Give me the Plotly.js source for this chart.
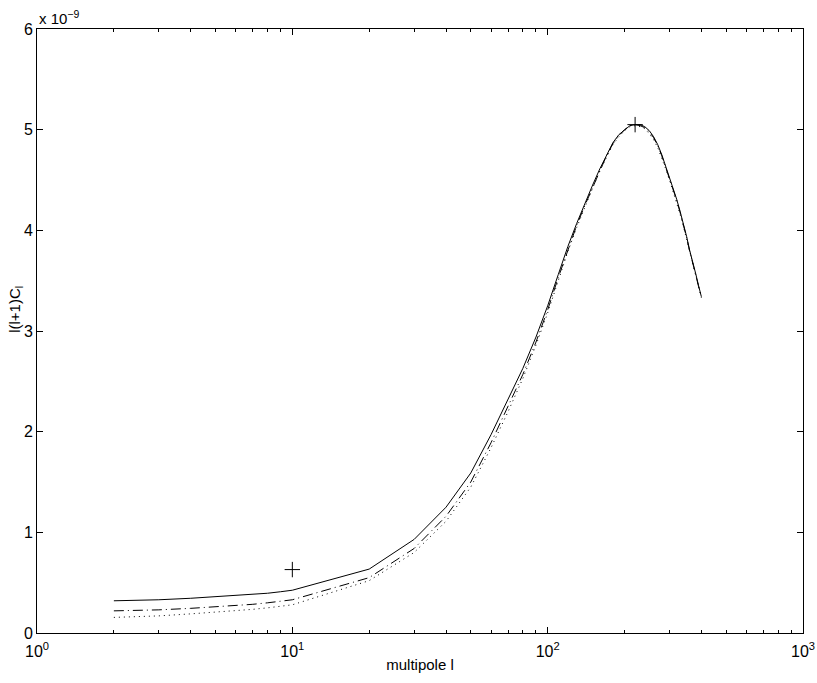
<!DOCTYPE html>
<html>
<head>
<meta charset="utf-8">
<script src="https://cdn.plot.ly/plotly-3.0.1.min.js"></script>
<style>
  html, body { margin: 0; padding: 0; background: #fff; }
  #chart { width: 817px; height: 683px; }
</style>
</head>
<body>
<div id="chart"></div>
<script>
// multipole values (l) and l(l+1)C_l in units of 1e-9
const ell = [2, 3, 4, 5, 6, 7, 8, 9, 10, 20, 30, 40, 50, 60, 70, 80, 90,
             100, 110, 120, 130, 140, 150, 160, 170, 180, 190, 200, 210, 220, 230, 240, 250,
             260, 270, 280, 290, 300, 310, 320, 330, 340, 350, 360, 370, 380, 390, 400];

const clSolid = [0.32, 0.33, 0.345, 0.36, 0.37, 0.385, 0.395, 0.41, 0.425, 0.635, 0.93, 1.25, 1.59,
                 1.97, 2.32, 2.63, 2.94,
                 3.25, 3.56, 3.84, 4.07, 4.27, 4.45, 4.61, 4.75, 4.87, 4.95, 5.00, 5.04, 5.05, 5.05,
                 5.03, 4.99, 4.93, 4.85, 4.75, 4.64, 4.53, 4.42, 4.31, 4.19, 4.07, 3.94, 3.80, 3.69,
                 3.57, 3.45, 3.34];

const clDashDot = [0.22, 0.23, 0.245, 0.26, 0.27, 0.285, 0.30, 0.315, 0.33, 0.55, 0.84, 1.16, 1.50,
                   1.89, 2.25, 2.57, 2.89,
                   3.21, 3.53, 3.81, 4.05, 4.25, 4.43, 4.60, 4.74, 4.86, 4.94, 5.00, 5.04, 5.05, 5.04,
                   5.02, 4.98, 4.92, 4.84, 4.74, 4.63, 4.52, 4.41, 4.30, 4.18, 4.06, 3.93, 3.79, 3.68,
                   3.56, 3.44, 3.34];

const clDotted = [0.155, 0.17, 0.19, 0.205, 0.22, 0.235, 0.25, 0.265, 0.28, 0.52, 0.80, 1.11, 1.45,
                  1.84, 2.20, 2.53, 2.86,
                  3.18, 3.50, 3.79, 4.03, 4.24, 4.42, 4.59, 4.73, 4.85, 4.93, 4.99, 5.03, 5.04, 5.03,
                  5.01, 4.96, 4.90, 4.82, 4.72, 4.61, 4.50, 4.39, 4.28, 4.16, 4.04, 3.91, 3.78, 3.67,
                  3.55, 3.43, 3.33];

// the two '+' points
const markL = [10, 220];
const markC = [0.63, 5.05];

const xTicks = [1, 10, 100, 1000];
const xTickText = ['10<sup>0</sup>', '10<sup>1</sup>', '10<sup>2</sup>', '10<sup>3</sup>'];
const xMinor = [2, 3, 4, 5, 6, 7, 8, 9, 20, 30, 40, 50, 60, 70, 80, 90,
                200, 300, 400, 500, 600, 700, 800, 900];

const fam = 'Liberation Sans, Arial, Helvetica, sans-serif';
const tickFont = { family: fam, size: 16, color: '#000' };
const titleFont = { family: fam, size: 15, color: '#000' };

const traces = [
    {
        x: ell, y: clSolid, mode: 'lines',
        line: { color: '#000', width: 1 }
    },
    {
        x: ell, y: clDashDot, mode: 'lines',
        line: { color: '#000', width: 1, dash: '10px,4px,1px,4px' }
    },
    {
        x: ell, y: clDotted, mode: 'lines',
        line: { color: '#000', width: 1, dash: '1px,4px' }
    },
    {
        x: markL, y: markC, mode: 'markers',
        marker: { symbol: 'cross-thin', size: 11, color: '#000', line: { color: '#000', width: 1 } }
    }
];

const axisCommon = {
    showline: true, mirror: 'ticks', linecolor: '#000', linewidth: 1,
    ticks: 'inside', ticklen: 6, tickcolor: '#000', tickwidth: 1,
    showgrid: false, zeroline: false, tickfont: tickFont
};

const layout = {
    width: 817, height: 683,
    margin: { l: 37, r: 14, t: 29, b: 50 },
    paper_bgcolor: '#fff', plot_bgcolor: '#fff',
    showlegend: false,
    font: titleFont,
    xaxis: {
        ...axisCommon,
        type: 'log', range: [0, 3],
        tickmode: 'array', tickvals: xTicks, ticktext: xTickText,
        ticklabelstandoff: 4,
        minor: { tickmode: 'array', tickvals: xMinor, ticks: 'inside', ticklen: 3, tickcolor: '#000', showgrid: false },
        title: { text: 'multipole l', font: titleFont, standoff: 0 }
    },
    yaxis: {
        ...axisCommon,
        range: [0, 6], dtick: 1
    },
    annotations: [
        {
            xref: 'paper', yref: 'paper', x: 0, y: 1, xanchor: 'left', yanchor: 'bottom',
            text: 'x 10<sup>−9</sup>', showarrow: false, font: titleFont
        },
        {
            xref: 'paper', yref: 'paper', x: 0, y: 0.535, xanchor: 'center', yanchor: 'middle',
            xshift: -21, textangle: -90,
            text: 'l(l+1)C<sub>l</sub>', showarrow: false, font: titleFont
        }
    ]
};

Plotly.newPlot('chart', traces, layout, { displayModeBar: false, staticPlot: true });
</script>
</body>
</html>
